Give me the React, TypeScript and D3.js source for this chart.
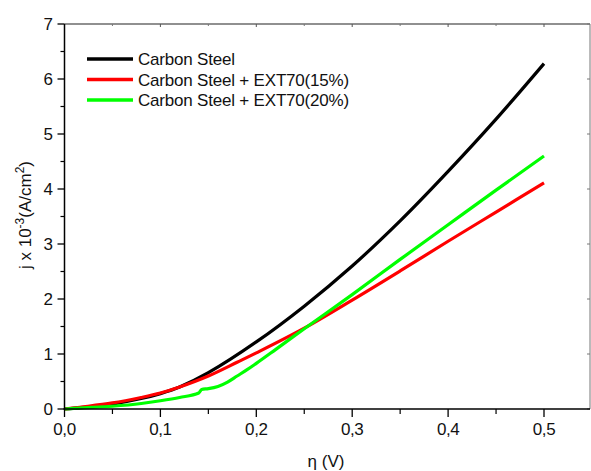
import React from "react";
import * as d3 from "d3";

const seriesNames = ["Carbon Steel", "Carbon Steel + EXT70(15%)", "Carbon Steel + EXT70(20%)"];
const seriesColors = ["#000000", "#ff0000", "#00ff00"];

const blackV = [0, 0.02, 0.05, 0.08, 0.1, 0.12, 0.15, 0.2, 0.25, 0.3, 0.35, 0.4, 0.45, 0.5];
const blackJ = [0, 0.03, 0.09, 0.19, 0.28, 0.4, 0.66, 1.22, 1.87, 2.6, 3.42, 4.32, 5.27, 6.28];

const redV = [0, 0.02, 0.05, 0.08, 0.1, 0.12, 0.15, 0.18, 0.2, 0.25, 0.3, 0.35, 0.4, 0.45, 0.5];
const redJ = [0, 0.04, 0.11, 0.21, 0.29, 0.4, 0.6, 0.85, 1.02, 1.47, 1.98, 2.51, 3.05, 3.58, 4.11];

const greenV = [0, 0.02, 0.05, 0.08, 0.1, 0.12, 0.14, 0.143, 0.15, 0.16, 0.17, 0.18, 0.19, 0.2, 0.22, 0.25, 0.3, 0.35, 0.4, 0.45, 0.5];
const greenJ = [0, 0.02, 0.05, 0.1, 0.15, 0.21, 0.29, 0.355, 0.37, 0.41, 0.49, 0.6, 0.71, 0.83, 1.08, 1.46, 2.08, 2.72, 3.35, 3.98, 4.6];

const xMajor = [0, 0.1, 0.2, 0.3, 0.4, 0.5];
const xMinor = [0.05, 0.15, 0.25, 0.35, 0.45];
const yMajor = [0, 1, 2, 3, 4, 5, 6, 7];
const yMinor = [0.5, 1.5, 2.5, 3.5, 4.5, 5.5, 6.5];

const FONT = "'Liberation Sans', Arial, sans-serif";

export default function App() {
  const W = 591, H = 471;
  const x = d3.scaleLinear().domain([0, 0.5]).range([64.5, 544]);
  const y = d3.scaleLinear().domain([0, 7]).range([409, 24]);
  const left = x(0), right = 590, top = y(7), bottom = y(0);

  const series = [
    { v: blackV, j: blackJ, curve: d3.curveCatmullRom.alpha(0.5) },
    { v: redV, j: redJ, curve: d3.curveCatmullRom.alpha(0.5) },
    { v: greenV, j: greenJ, curve: d3.curveMonotoneX },
  ];

  const fmt = (v: number) => v.toFixed(1).replace(".", ",");

  return (
    <svg width={W} height={H} style={{ position: "absolute", left: 0, top: 0, background: "#fff" }} fontFamily={FONT}>
      <rect x={0} y={0} width={W} height={H} fill="#fff" />
      {/* frame */}
      <line x1={left} x2={right} y1={top} y2={top} stroke="#222" strokeWidth={1.2} />
      <line x1={right} x2={right} y1={top} y2={bottom} stroke="#777" strokeWidth={1} />
      {xMajor.map((t) => (
        <line key={"tt" + t} x1={x(t)} x2={x(t)} y1={top} y2={top + 3} stroke="#555" strokeWidth={1} />
      ))}
      {xMinor.map((t) => (
        <line key={"tm" + t} x1={x(t)} x2={x(t)} y1={top} y2={top + 2} stroke="#777" strokeWidth={1} />
      ))}
      {yMajor.map((t) => (
        <line key={"rt" + t} x1={right} x2={right - 3} y1={y(t)} y2={y(t)} stroke="#777" strokeWidth={1} />
      ))}
      {/* data */}
      {series.map((s, i) => {
        const line = d3
          .line<[number, number]>()
          .x((d) => x(d[0]))
          .y((d) => y(d[1]))
          .curve(s.curve);
        return (
          <path
            key={i}
            d={line(s.v.map((v, k) => [v, s.j[k]] as [number, number])) || ""}
            fill="none"
            stroke={seriesColors[i]}
            strokeWidth={3.2}
            strokeLinejoin="round"
          />
        );
      })}
      {/* left axis */}
      <line x1={left} x2={left} y1={top} y2={bottom} stroke="#000" strokeWidth={1.5} />
      {yMajor.map((t) => (
        <g key={"y" + t}>
          <line x1={left - 7} x2={left} y1={y(t)} y2={y(t)} stroke="#000" strokeWidth={1.3} />
          <text x={53} y={y(t)} dy="0.36em" textAnchor="end" fontSize={17} fill="#111">
            {t}
          </text>
        </g>
      ))}
      {yMinor.map((t) => (
        <line key={"ym" + t} x1={left - 4} x2={left} y1={y(t)} y2={y(t)} stroke="#000" strokeWidth={1.2} />
      ))}
      {/* bottom axis */}
      <line x1={left - 1} x2={right} y1={bottom} y2={bottom} stroke="#000" strokeWidth={1.5} />
      {xMajor.map((t) => (
        <g key={"x" + t}>
          <line x1={x(t)} x2={x(t)} y1={bottom} y2={bottom + 8} stroke="#000" strokeWidth={1.3} />
          <text x={x(t)} y={435} textAnchor="middle" fontSize={17} letterSpacing={-0.4} fill="#111">
            {fmt(t)}
          </text>
        </g>
      ))}
      {xMinor.map((t) => (
        <line key={"xm" + t} x1={x(t)} x2={x(t)} y1={bottom} y2={bottom + 5} stroke="#000" strokeWidth={1.2} />
      ))}
      {/* axis titles */}
      <text x={326} y={467} textAnchor="middle" fontSize={17} fill="#111">
        η (V)
      </text>
      <text transform={`translate(31,215) rotate(-90)`} textAnchor="middle" fontSize={17} fill="#111">
        j x 10
        <tspan dy={-7} fontSize={12}>-3</tspan>
        <tspan dy={7}>(A/cm</tspan>
        <tspan dy={-7} fontSize={12}>2</tspan>
        <tspan dy={7}>)</tspan>
      </text>
      {/* legend */}
      {seriesNames.map((n, i) => {
        const ly = 59 + i * 20.5;
        return (
          <g key={"lg" + i}>
            <line x1={87} x2={133} y1={ly} y2={ly} stroke={seriesColors[i]} strokeWidth={3.5} />
            <text x={138} y={ly} dy="0.36em" fontSize={17} letterSpacing={-0.2} fill="#111">
              {n}
            </text>
          </g>
        );
      })}
    </svg>
  );
}
